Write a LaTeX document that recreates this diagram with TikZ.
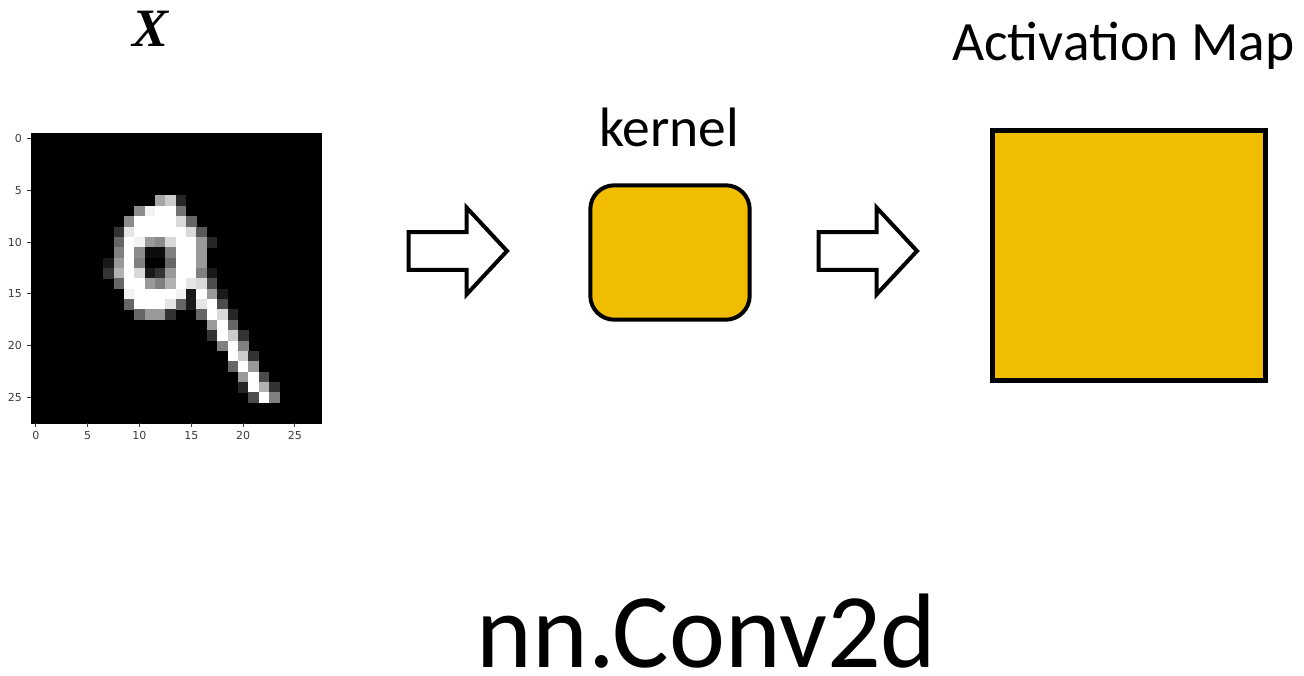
\documentclass[tikz,border=0pt]{standalone}
\usepackage{fontspec}
\setmainfont{Carlito}
\newfontfamily\tickfont{DejaVu Sans}
\newfontfamily\xfont{Liberation Serif}
\definecolor{kyellow}{RGB}{241,189,0}
\definecolor{tickgray}{RGB}{60,60,60}
\tikzset{
  boxline/.style={draw=black, fill=kyellow},
  arrowline/.style={draw=black, line width=4pt, fill=white, line join=miter},
  bigtext/.style={inner sep=0pt, anchor=base, font=\fontsize{55.5}{60}\selectfont},
  ticklab/.style={inner sep=0pt, text=tickgray, font=\tickfont\fontsize{11}{12}\selectfont},
  blockarrow/.pic={\draw[arrowline] (0,-18.85) -- (57.8,-18.85) -- (57.8,-43.5) -- (98.3,0) -- (57.8,43.5) -- (57.8,18.85) -- (0,18.85) -- cycle;}
}
\begin{document}
\begin{tikzpicture}[x=1pt,y=-1pt]
\useasboundingbox (0,0) rectangle (1304,675);
\fill[white] (0,0) rectangle (1304,675);

% input image (28x28 pixels)
\node[draw=black, fill=black, minimum size=290pt, inner sep=0pt, anchor=north west, line width=0.6pt] (img) at (30.7,133.3) {};
\foreach \r/\c/\v in {
 6/12/65, 6/13/80, 6/14/15,
 7/10/55, 7/11/95, 7/12/100, 7/13/100, 7/14/45,
 8/9/55, 8/10/100, 8/11/100, 8/12/100, 8/13/100, 8/14/85, 8/15/40,
 9/8/20, 9/9/90, 9/10/100, 9/11/100, 9/12/100, 9/13/100, 9/14/100, 9/15/85, 9/16/35,
 10/8/40, 10/9/100, 10/10/95, 10/11/60, 10/12/55, 10/13/85, 10/14/100, 10/15/100, 10/16/60, 10/17/15,
 11/8/50, 11/9/100, 11/10/55, 11/11/5, 11/12/5, 11/13/50, 11/14/100, 11/15/100, 11/16/60,
 12/7/10, 12/8/60, 12/9/100, 12/10/50, 12/13/40, 12/14/100, 12/15/100, 12/16/60,
 13/7/20, 13/8/70, 13/9/100, 13/10/85, 13/11/10, 13/12/20, 13/13/60, 13/14/100, 13/15/100, 13/16/50, 13/17/10,
 14/8/40, 14/9/100, 14/10/100, 14/11/60, 14/12/50, 14/13/70, 14/14/100, 14/15/90, 14/16/85, 14/17/30,
 15/9/95, 15/10/100, 15/11/100, 15/12/100, 15/13/100, 15/14/95, 15/15/10, 15/16/100, 15/17/60, 15/18/10,
 16/9/40, 16/10/100, 16/11/100, 16/12/100, 16/13/90, 16/14/40, 16/15/10, 16/16/90, 16/17/100, 16/18/30,
 17/10/40, 17/11/60, 17/12/60, 17/13/20, 17/16/40, 17/17/100, 17/18/85, 17/19/15,
 18/17/60, 18/18/100, 18/19/40,
 19/17/20, 19/18/100, 19/19/80, 19/20/20,
 20/18/50, 20/19/100, 20/20/50,
 21/19/100, 21/20/80, 21/21/20,
 22/19/40, 22/20/100, 22/21/60,
 23/20/60, 23/21/100, 23/22/30,
 24/20/15, 24/21/100, 24/22/70, 24/23/20,
 25/21/30, 25/22/100, 25/23/50}
 \fill[white!\v!black] ({30.7+10.36*\c},{133.3+10.36*\r}) rectangle ++(10.66,10.66);

% ticks and tick labels
\foreach \t in {0,5,10,15,20,25}{
  \draw[line width=0.8pt, tickgray] ({27},{133.3+10.36*(\t+0.5)}) -- ({30.7},{133.3+10.36*(\t+0.5)});
  \node[ticklab, anchor=east] (yl\t) at ({22},{133.3+10.36*(\t+0.5)}) {\t};
  \draw[line width=0.8pt, tickgray] ({30.7+10.36*(\t+0.5)},{423.3}) -- ({30.7+10.36*(\t+0.5)},{427});
  \node[ticklab, anchor=north] (xl\t) at ({30.7+10.36*(\t+0.5)},{431.5}) {\t};
}

% labels
\node[inner sep=0pt, anchor=base, font=\xfont\bfseries\itshape\fontsize{54}{60}\selectfont] (xlab) at (151,46) {X};
\node[bigtext] (klab) at (669,146.7) {kernel};
\node[bigtext] (alab) at (1123.3,60) {Activation Map};
\node[inner sep=0pt, anchor=base, font=\fontsize{106}{120}\selectfont] (title) at (706.7,667) {nn.Conv2d};

% kernel and activation map
\draw[boxline, line width=4pt, rounded corners=24pt] (590.3,185.3) rectangle (749.7,319.7);
\node[boxline, line width=5pt, minimum width=272.3pt, minimum height=250pt, inner sep=0pt, anchor=north west] (amap) at (990.2,127.5) {};
\node[inner sep=0pt, minimum width=159.4pt, minimum height=134.4pt, anchor=north west] (kernel) at (590.3,185.3) {};

% block arrows
\coordinate (a1) at (408.7,251);
\coordinate (a2) at (818.7,251);
\pic at (a1) {blockarrow};
\pic at (a2) {blockarrow};
\end{tikzpicture}
\end{document}
